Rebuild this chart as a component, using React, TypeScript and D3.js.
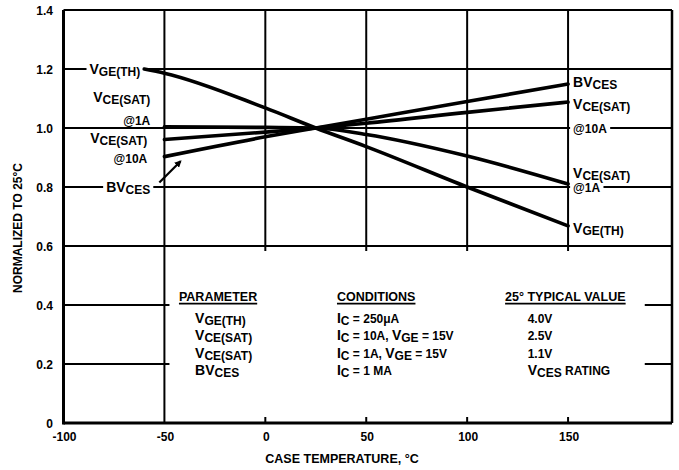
import * as d3 from "d3";
import { useEffect, useRef } from "react";

// curves, normalized to 25°C
const TEMPS = [-50, 0, 25, 50, 100, 150];
const VGE_TEMPS = [-60, -50, 0, 25, 50, 100, 150];
const VGE_TH = [1.2, 1.186, 1.068, 1.0, 0.937, 0.8, 0.668];
const VCE_1A = [1.004, 1.002, 1.0, 0.978, 0.905, 0.81];
const VCE_10A = [0.961, 0.986, 1.0, 1.016, 1.053, 1.088];
const BV_CES = [0.903, 0.97, 1.0, 1.03, 1.09, 1.149];

const X_TICKS = [-100, -50, 0, 50, 100, 150];
const Y_TICKS = [0, 0.2, 0.4, 0.6, 0.8, 1.0, 1.2, 1.4];

// {big}  [subscript]  plain
const LEFT_LABELS = [
  { text: "{V}[GE(TH)]", x: -62, y: 1.2, knock: true },
  { text: "{V}[CE(SAT)]", x: -57, y: 1.102 },
  { text: "@1A", x: -57, y: 1.027 },
  { text: "{V}[CE(SAT)]", x: -58.5, y: 0.963 },
  { text: "@10A", x: -58.5, y: 0.895 },
  { text: "{BV}[CES]", x: -57, y: 0.8, knock: true },
];
const RIGHT_LABELS = [
  { text: "{BV}[CES]", x: 152.5, y: 1.153 },
  { text: "{V}[CE(SAT)]", x: 152.5, y: 1.081 },
  { text: "@10A", x: 152.5, y: 1.0, knock: true },
  { text: "{V}[CE(SAT)]", x: 152.5, y: 0.847 },
  { text: "@1A", x: 152.5, y: 0.8, knock: true },
  { text: "{V}[GE(TH)]", x: 152.5, y: 0.658 },
];

const TABLE_HEADERS = ["PARAMETER", "CONDITIONS", "25° TYPICAL VALUE"];
const TABLE_PARAMS = ["{V}[GE(TH)]", "{V}[CE(SAT)]", "{V}[CE(SAT)]", "{BV}[CES]"];
const TABLE_CONDITIONS = [
  "{I}[C] = 250μA",
  "{I}[C] = 10A, {V}[GE] = 15V",
  "{I}[C] = 1A, {V}[GE] = 15V",
  "{I}[C] = 1 MA",
];
const TABLE_VALUES = ["4.0V", "2.5V", "1.1V", "{V}[CES] RATING"];

const W = 679;
const H = 470;
const FONT = "'Liberation Sans', Arial, Helvetica, sans-serif";

const rich = (sel, markup, size = 12) => {
  const re = /\{([^}]*)\}|\[([^\]]*)\]|([^{\[]+)/g;
  let m;
  let down = false;
  while ((m = re.exec(markup))) {
    const t = sel.append("tspan");
    if (m[2] !== undefined) {
      t.text(m[2]).attr("font-size", size);
      if (!down) t.attr("dy", 2);
      down = true;
    } else {
      t.text(m[1] !== undefined ? m[1] : m[3]).attr("font-size", m[1] !== undefined ? size + 2 : size);
      if (down) t.attr("dy", -2);
      down = false;
    }
  }
};

const App = () => {
  const ref = useRef(null);

  useEffect(() => {
    const svg = d3.select(ref.current);
    svg.selectAll("*").remove();

    const x = d3.scaleLinear().domain([-100, 201.5]).range([63.5, 672]);
    const y = d3.scaleLinear().domain([0, 1.4]).range([423, 10]);

    const grid = svg.append("g").attr("stroke", "#000").attr("fill", "none");

    // horizontal lines
    [0.6, 0.8, 1.0, 1.2].forEach((v) => {
      grid.append("line").attr("x1", x(-100)).attr("x2", x(201.5))
        .attr("y1", y(v)).attr("y2", y(v)).attr("stroke-width", 2);
    });
    [0.2, 0.4].forEach((v) => {
      grid.append("line").attr("x1", x(-100)).attr("x2", x(-47.5))
        .attr("y1", y(v)).attr("y2", y(v)).attr("stroke-width", 2);
      grid.append("line").attr("x1", x(188)).attr("x2", x(201.5))
        .attr("y1", y(v)).attr("y2", y(v)).attr("stroke-width", 2);
    });

    // vertical lines
    grid.append("line").attr("x1", x(-50)).attr("x2", x(-50))
      .attr("y1", y(0)).attr("y2", y(1.4)).attr("stroke-width", 2);
    [0, 50, 100, 150].forEach((t) => {
      grid.append("line").attr("x1", x(t)).attr("x2", x(t))
        .attr("y1", y(0.6) + 5).attr("y2", y(1.4)).attr("stroke-width", 2);
      grid.append("line").attr("x1", x(t)).attr("x2", x(t))
        .attr("y1", y(0)).attr("y2", y(0) - 6).attr("stroke-width", 2);
    });

    // frame
    grid.append("line").attr("x1", x(-100)).attr("x2", x(-100))
      .attr("y1", y(0) + 1.5).attr("y2", y(1.4)).attr("stroke-width", 3);
    grid.append("line").attr("x1", x(-100)).attr("x2", x(201.5))
      .attr("y1", y(0)).attr("y2", y(0)).attr("stroke-width", 3);
    grid.append("line").attr("x1", x(-100)).attr("x2", x(201.5))
      .attr("y1", y(1.4)).attr("y2", y(1.4)).attr("stroke-width", 2);
    grid.append("line").attr("x1", x(201.5)).attr("x2", x(201.5))
      .attr("y1", y(0)).attr("y2", y(1.4)).attr("stroke-width", 2.5);

    const txt = svg.append("g").attr("font-family", FONT).attr("font-weight", "bold").attr("fill", "#000");

    // tick labels
    Y_TICKS.forEach((v) => {
      txt.append("text").attr("x", 53).attr("y", y(v) + 4.5)
        .attr("text-anchor", "end").attr("font-size", 12)
        .text(v === 0 ? "0" : d3.format(".1f")(v));
    });
    X_TICKS.forEach((t) => {
      txt.append("text").attr("x", x(t) + 1).attr("y", 441)
        .attr("text-anchor", "middle").attr("font-size", 12)
        .text(t);
    });

    // axis titles
    txt.append("text").attr("x", 342).attr("y", 463)
      .attr("text-anchor", "middle").attr("font-size", 12.5)
      .text("CASE TEMPERATURE, °C");
    txt.append("text").attr("transform", "translate(21.5,228) rotate(-90)")
      .attr("text-anchor", "middle").attr("font-size", 12)
      .text("NORMALIZED TO 25°C");

    // curve labels
    const addLabel = (d, anchor) => {
      const g = txt.append("g");
      const t = g.append("text").attr("x", x(d.x)).attr("y", y(d.y) + 4.5)
        .attr("text-anchor", anchor);
      rich(t, d.text, 12);
      if (d.knock) {
        const b = t.node().getBBox();
        g.insert("rect", "text").attr("x", b.x - 3).attr("y", y(d.y) - 3)
          .attr("width", b.width + 6).attr("height", 6).attr("fill", "#fff");
      }
    };
    LEFT_LABELS.forEach((d) => addLabel(d, "end"));
    RIGHT_LABELS.forEach((d) => addLabel(d, "start"));

    // table
    const cols = [-42.8, 35.5, 118.8];
    const rowCols = [-34.8, 35.5, 130];
    const headY = y(0.43) + 4.5;
    const rowH = 17.4;
    TABLE_HEADERS.forEach((h, i) => {
      const t = txt.append("text").attr("x", x(cols[i])).attr("y", headY)
        .attr("font-size", 12.5).text(h);
      const b = t.node().getBBox();
      txt.append("line").attr("x1", b.x).attr("x2", b.x + b.width)
        .attr("y1", headY + 3).attr("y2", headY + 3)
        .attr("stroke", "#000").attr("stroke-width", 1.6);
    });
    [TABLE_PARAMS, TABLE_CONDITIONS, TABLE_VALUES].forEach((col, ci) => {
      col.forEach((s, ri) => {
        const t = txt.append("text").attr("x", x(rowCols[ci]))
          .attr("y", headY + 5 + rowH * (ri + 1));
        rich(t, s, 12);
      });
    });

    // curves
    const line = d3.line().x((d) => x(d[0])).y((d) => y(d[1])).curve(d3.curveMonotoneX);
    const series = [
      d3.zip(VGE_TEMPS, VGE_TH),
      d3.zip(TEMPS, VCE_1A),
      d3.zip(TEMPS, VCE_10A),
      d3.zip(TEMPS, BV_CES),
    ];
    svg.append("g").selectAll("path").data(series).enter().append("path")
      .attr("d", line).attr("fill", "none").attr("stroke", "#000")
      .attr("stroke-width", 3.6).attr("stroke-linecap", "round");

    // arrow from BVces label to its curve
    svg.append("defs").append("marker").attr("id", "arr")
      .attr("viewBox", "0 0 10 10").attr("refX", 8).attr("refY", 5)
      .attr("markerWidth", 7).attr("markerHeight", 7).attr("orient", "auto")
      .attr("markerUnits", "userSpaceOnUse")
      .append("path").attr("d", "M0,0 L10,5 L0,10 Z").attr("fill", "#000");
    svg.append("line").attr("x1", x(-52.5)).attr("y1", y(0.815))
      .attr("x2", x(-42)).attr("y2", y(0.887))
      .attr("stroke", "#000").attr("stroke-width", 2.2)
      .attr("marker-end", "url(#arr)");
  }, []);

  return (
    <svg ref={ref} width={W} height={H}
      style={{ position: "absolute", left: 0, top: 0, background: "#fff" }} />
  );
};

export default App;
